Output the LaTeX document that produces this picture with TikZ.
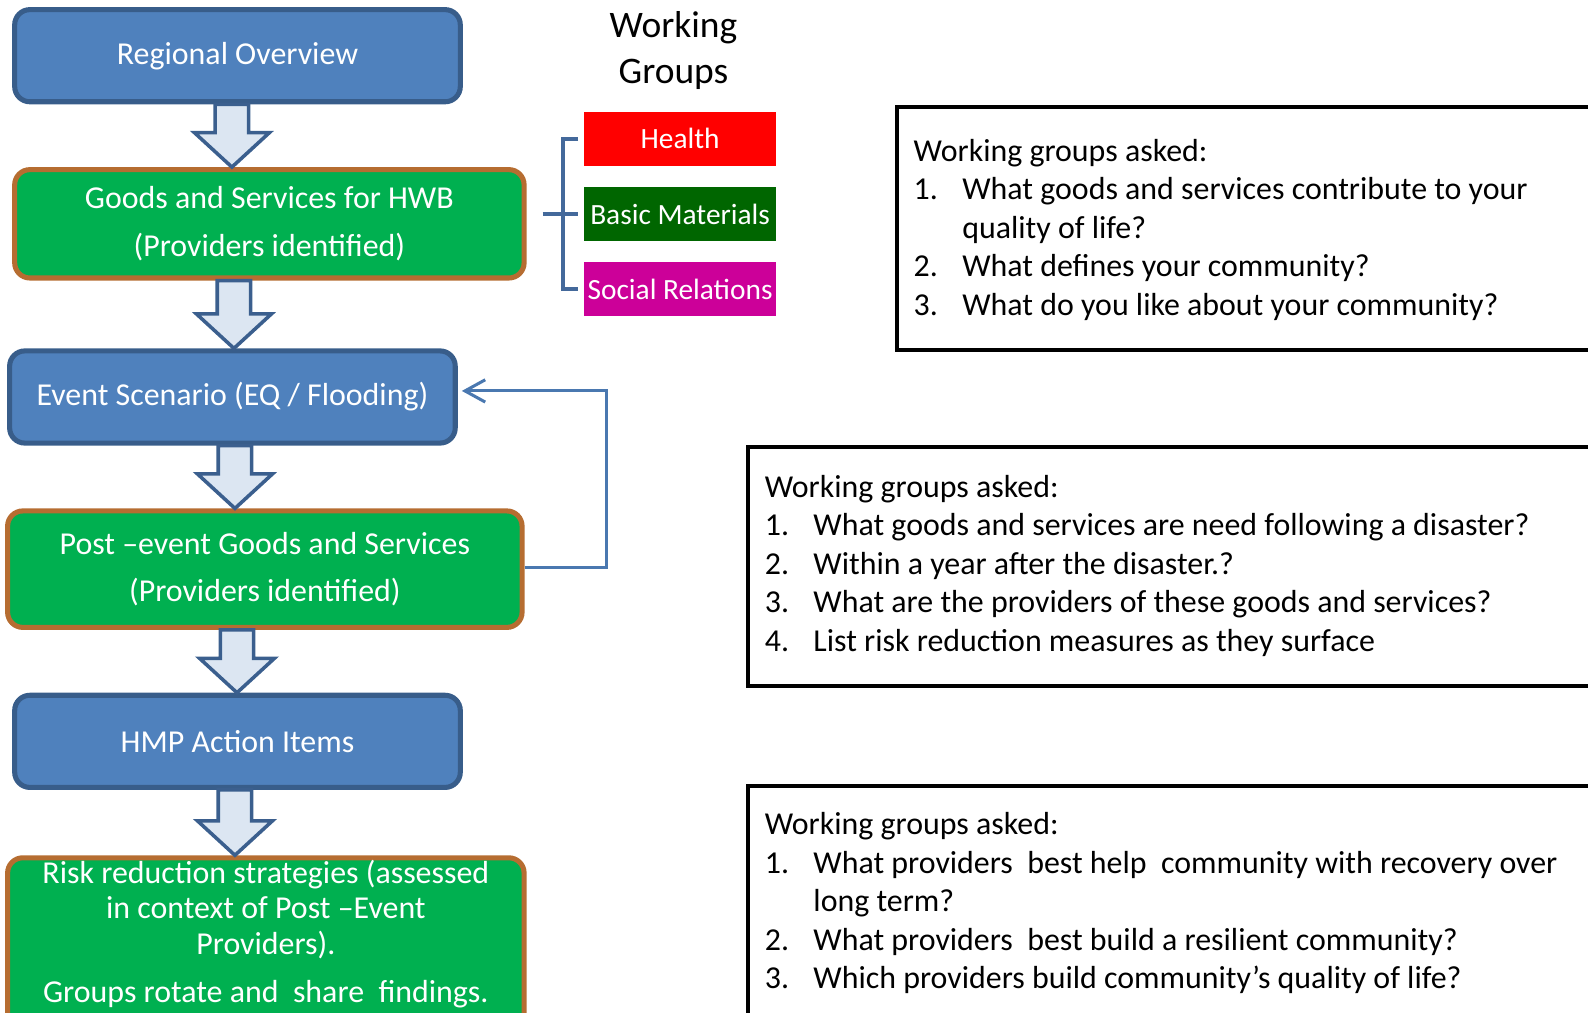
\documentclass[tikz,border=0pt]{standalone}
\usepackage{fontspec}
\setmainfont{Carlito}
\usetikzlibrary{arrows.meta,calc}
\definecolor{bfill}{HTML}{4F81BD}
\definecolor{bline}{HTML}{385D8A}
\definecolor{gfill}{HTML}{00B050}
\definecolor{gline}{HTML}{B66D31}
\definecolor{afill}{HTML}{DCE6F2}
\definecolor{aline}{HTML}{3B5F8E}
\definecolor{hred}{HTML}{FF0000}
\definecolor{bgreen}{HTML}{006600}
\definecolor{smag}{HTML}{CC0099}
\definecolor{brk}{HTML}{44699B}
\definecolor{fbline}{HTML}{4A78B0}
\newcommand\qnum[1]{\makebox[48pt][l]{#1}}
\newcommand\blockarrow[3]{%
  \draw[barrow] (#1.south -| #3-16.5,0) -- (#1.south -| #3+16.5,0)
   -- ($(#2.north -| #3+16.5,0)+(0,-34)$) -- ($(#2.north -| #3+37,0)+(0,-34)$)
   -- (#2.north -| #3,0) -- ($(#2.north -| #3-37,0)+(0,-34)$)
   -- ($(#2.north -| #3-16.5,0)+(0,-34)$) -- cycle;}
\begin{document}
\begin{tikzpicture}[x=1pt,y=-1pt,
 flowbox/.style={rounded corners=15pt, line width=5pt, text=white, font=\fontsize{31.5}{47}\selectfont, align=center, inner sep=0pt},
 bluebox/.style={flowbox, draw=bline, fill=bfill},
 greenbox/.style={flowbox, draw=gline, fill=gfill},
 barrow/.style={draw=aline, fill=afill, line width=3.5pt, line join=miter},
 grp/.style={text=white, font=\fontsize{29}{34}\selectfont, minimum width=189pt, minimum height=53pt, inner sep=0pt},
 qbox/.style={draw=black, line width=4pt, inner sep=0pt, anchor=north west},
 qtext/.style={font=\fontsize{31.5}{38}\selectfont, align=left, anchor=north west, inner sep=0pt},
 brkline/.style={draw=brk, line width=4pt},
 fbl/.style={draw=fbline, line width=3pt},
]
\useasboundingbox (0,0) rectangle (1568,1000);
\clip (0,0) rectangle (1568,1000);

% flow boxes
\node[bluebox, minimum width=440pt, minimum height=91pt] (b1) at (234.5,55) {Regional Overview};
\node[greenbox, minimum width=503pt, minimum height=107pt] (b2) at (266,221) {Goods and Services for HWB\\(Providers identified)};
\node[bluebox, minimum width=440pt, minimum height=91pt] (b3) at (229.5,392) {Event Scenario (EQ / Flooding)};
\node[greenbox, minimum width=508pt, minimum height=115pt] (b4) at (261.5,562) {Post –event Goods and Services\\(Providers identified)};
\node[bluebox, minimum width=440pt, minimum height=91pt] (b5) at (234.5,732) {HMP Action Items};
\node[greenbox, minimum width=510pt, minimum height=170pt, anchor=north] (b6) at (262.5,844.5) {};
\node[text=white, font=\fontsize{31.5}{35}\selectfont, align=center, anchor=north, inner sep=0pt] (b6t) at (262.5,849) {Risk reduction strategies (assessed\\in context of Post –Event\\Providers).\\[13pt]Groups rotate and\ \ share\ \ findings.};

% block arrows
\blockarrow{b1}{b2}{229}
\blockarrow{b2}{b3}{231}
\blockarrow{b3}{b4}{232}
\blockarrow{b4}{b5}{234}
\blockarrow{b5}{b6}{232}

% feedback connector
\coordinate (fbend) at ([xshift=4pt]b3.east);
\draw[fbl, -{Straight Barb[length=20pt,width=22pt,line width=3pt]}] (b4.east |- 0,560) -- (599,560) -- (599,386) -- (fbend |- 0,386);

% working groups
\node[font=\fontsize{37}{45}\selectfont, align=center, inner sep=0pt] (wg) at (665,50) {Working\\Groups};
\node[grp, fill=hred] (gh) at (671.5,137) {Health};
\node[grp, fill=bgreen] (gb) at (671.5,211.5) {Basic Materials};
\node[grp, fill=smag] (gs) at (671.5,285.5) {Social Relations};
\coordinate (brx) at (556,0);
\draw[brkline] ([xshift=-6pt]gh.west) -| (brx |- gs.west) -- ([xshift=-6pt]gs.west);
\draw[brkline] ([xshift=-41pt]gb.west) -- ([xshift=-6pt]gb.west);

% question boxes
\node[qbox, minimum width=720pt, minimum height=240pt] (qa) at (884,104) {};
\node[qbox, minimum width=870pt, minimum height=236pt] (qb) at (737,439) {};
\node[qbox, minimum width=870pt, minimum height=260pt] (qc) at (737,774) {};

\node[qtext] (qat) at (902,137) {Working groups asked:\\\qnum{1.}What goods and services contribute to your\\\qnum{}quality of life?\\\qnum{2.}What defines your community?\\\qnum{3.}What do you like about your community?};
\node[qtext] (qbt) at (755,469) {Working groups asked:\\\qnum{1.}What goods and services are need following a disaster?\\\qnum{2.}Within a year after the disaster.?\\\qnum{3.}What are the providers of these goods and services?\\\qnum{4.}List risk reduction measures as they surface};
\node[qtext] (qct) at (755,802) {Working groups asked:\\\qnum{1.}What providers\ \ best help\ \ community with recovery over\\\qnum{}long term?\\\qnum{2.}What providers\ \ best build a resilient community?\\\qnum{3.}Which providers build community’s quality of life?};
\end{tikzpicture}
\end{document}
